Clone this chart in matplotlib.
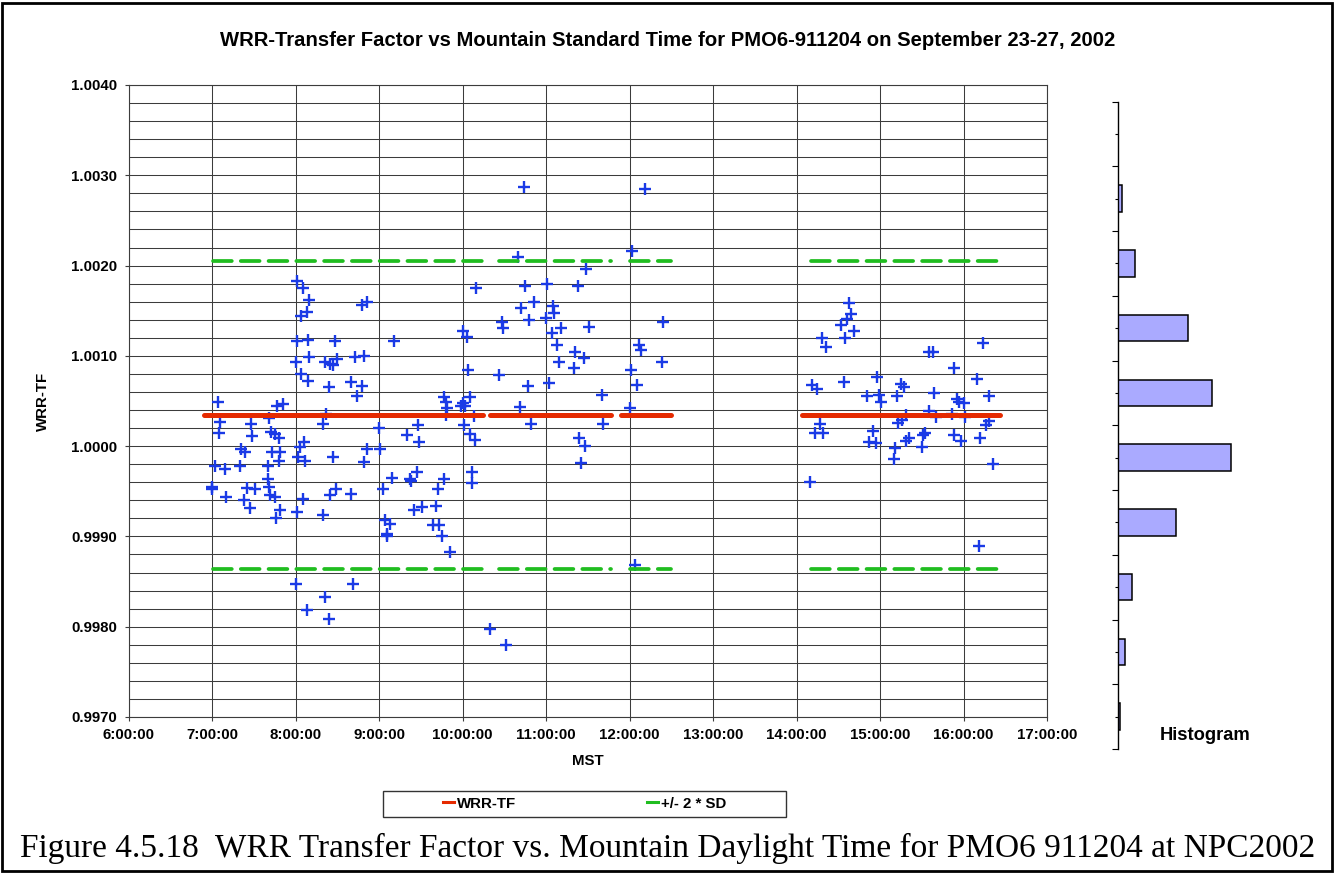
import matplotlib
matplotlib.use('Agg')
import matplotlib.pyplot as plt
from matplotlib.lines import Line2D
from matplotlib.patches import Rectangle
from matplotlib.ticker import MultipleLocator, FormatStrFormatter, FixedLocator
import numpy as np

plt.rcParams['font.family'] = ['Liberation Sans', 'DejaVu Sans']
plt.rcParams['lines.scale_dashes'] = False

# WRR-TF readings, morning session (MST)
tf_am_times = [
    "8:01", "8:05:30", "8:10", "8:08", "8:04", "8:48", "8:51", "8:01", "8:09", "8:28",
    "9:11", "8:10", "8:00", "8:21", "8:25", "8:27", "8:30", "8:43", "8:49", "8:04",
    "8:09", "8:24", "8:40", "8:48", "8:44", "7:04", "7:47", "7:51", "8:22", "7:41",
    "7:06", "7:28", "8:20", "7:05", "7:29", "7:42", "7:45", "7:48", "9:00", "9:20",
    "9:28", "9:29", "8:06", "8:03", "7:21", "7:24", "7:43", "7:49", "7:48", "8:02",
    "8:07", "8:27", "8:51", "9:01", "8:49", "7:02", "7:09", "7:20", "7:40", "7:40",
    "7:00", "7:00", "7:10", "7:25", "7:31", "7:23", "7:27", "7:41", "7:41:30", "7:45",
    "7:46", "7:49", "8:05", "8:01", "8:20", "8:25", "8:29", "8:40", "9:09", "9:03",
    "9:22", "9:23", "9:27", "9:25", "9:31", "9:41", "9:42", "9:04", "9:08", "9:06",
    "9:06", "9:39", "9:43", "9:45", "8:00", "8:41", "8:21", "8:08", "8:24",
    "10:44", "12:11", "12:02", "10:40", "11:29", "10:10", "10:45", "11:01", "11:23", "10:51",
    "10:42", "11:05", "11:06", "10:48", "11:00", "10:28", "10:29", "10:00", "10:03", "11:04",
    "11:11", "11:31", "12:24", "11:08", "11:21", "11:27", "12:06:30", "12:08", "11:09", "11:20",
    "12:23", "10:04", "10:26", "10:47", "11:02", "12:01", "12:05", "11:40", "9:47", "9:48",
    "9:49", "10:05", "10:00", "10:02", "9:59", "10:41", "12:00", "10:08", "9:48", "10:01",
    "10:49", "11:41", "10:05", "10:09", "11:24", "11:28", "11:25",
    "10:06:30", "10:06:30", "9:47", "9:51", "12:04", "10:20", "10:31",
]
tf_am_values = [
    1.00183, 1.00175, 1.00162, 1.00149, 1.00144, 1.00156, 1.00160, 1.00117, 1.00118, 1.00117,
    1.00116, 1.00099, 1.00093, 1.00093, 1.00091, 1.00090, 1.00096, 1.00099, 1.00100, 1.00080,
    1.00072, 1.00065, 1.00071, 1.00067, 1.00056, 1.00049, 1.00044, 1.00047, 1.00036, 1.00031,
    1.00027, 1.00024, 1.00024, 1.00015, 1.00011, 1.00016, 1.00013, 1.00009, 1.00020, 1.00012,
    1.00023, 1.00005, 1.00005, 0.99999, 0.99997, 0.99993, 0.99994, 0.99993, 0.99984, 0.99988,
    0.99983, 0.99988, 0.99997, 0.99997, 0.99982, 0.99978, 0.99975, 0.99978, 0.99978, 0.99964,
    0.99955, 0.99953, 0.99944, 0.99954, 0.99953, 0.99940, 0.99931, 0.99955, 0.99946, 0.99944,
    0.99920, 0.99929, 0.99942, 0.99927, 0.99924, 0.99946, 0.99953, 0.99947, 0.99965, 0.99952,
    0.99964, 0.99961, 0.99971, 0.99929, 0.99933, 0.99934, 0.99952, 0.99918, 0.99914, 0.99901,
    0.99903, 0.99913, 0.99913, 0.99901, 0.99847, 0.99847, 0.99833, 0.99818, 0.99808,
    1.00287, 1.00285, 1.00216, 1.00209, 1.00196, 1.00175, 1.00177, 1.00180, 1.00177, 1.00160,
    1.00153, 1.00155, 1.00147, 1.00140, 1.00142, 1.00138, 1.00131, 1.00128, 1.00121, 1.00125,
    1.00131, 1.00132, 1.00138, 1.00112, 1.00104, 1.00098, 1.00112, 1.00106, 1.00093, 1.00086,
    1.00093, 1.00084, 1.00079, 1.00067, 1.00070, 1.00084, 1.00068, 1.00057, 1.00054, 1.00049,
    1.00042, 1.00054, 1.00048, 1.00045, 1.00045, 1.00043, 1.00042, 1.00033, 1.00034, 1.00023,
    1.00025, 1.00024, 1.00014, 1.00007, 1.00009, 1.00000, 0.99981,
    0.99971, 0.99959, 0.99964, 0.99883, 0.99868, 0.99797, 0.99780,
]

# WRR-TF readings, afternoon session (MST)
tf_pm_times = [
    "14:38", "14:39", "14:36", "14:32", "14:41", "14:35", "14:18", "14:21", "16:14", "15:35",
    "15:38", "15:53", "14:58", "16:10", "14:11", "14:15", "14:34", "15:15", "15:17", "14:51",
    "14:59", "15:01", "15:12", "15:39", "15:55", "15:57", "16:00", "16:18", "15:35", "15:52",
    "15:40", "16:01", "15:19", "15:16", "15:13", "16:18", "16:16", "14:17", "14:13", "14:19",
    "14:55", "14:52", "14:57", "15:21", "15:19", "15:32", "15:31", "15:11", "15:10", "15:30",
    "15:53", "15:58", "16:12", "16:21", "14:10", "16:11",
]
tf_pm_values = [
    1.00159, 1.00146, 1.00141, 1.00134, 1.00128, 1.00120, 1.00120, 1.00110, 1.00114, 1.00104,
    1.00104, 1.00086, 1.00077, 1.00074, 1.00068, 1.00063, 1.00071, 1.00069, 1.00065, 1.00056,
    1.00057, 1.00049, 1.00056, 1.00059, 1.00052, 1.00049, 1.00048, 1.00055, 1.00039, 1.00036,
    1.00032, 1.00032, 1.00034, 1.00029, 1.00026, 1.00028, 1.00023, 1.00025, 1.00015, 1.00015,
    1.00017, 1.00005, 1.00004, 1.00009, 1.00006, 1.00015, 1.00012, 0.99998, 0.99986, 0.99999,
    1.00012, 1.00006, 1.00009, 0.99980, 0.99960, 0.99889,
]

# mean and +/- 2 SD, drawn over the continuous runs of data
wrr_mean = 1.00035
sd2_upper = 1.00205
sd2_lower = 0.99864
run_starts = ["6:54", "10:20", "11:54", "14:04"]
run_ends = ["10:15", "11:47", "12:30", "16:26"]

hour_ticks = list(range(6, 18))
hour_labels = [f"{h}:00:00" for h in hour_ticks]

# histogram of the readings, top bin first
hist_bins = [1.00347, 1.00275, 1.00203, 1.00131, 1.00059, 0.99987, 0.99915, 0.99844, 0.99772, 0.99700]
hist_counts = [0, 2, 10, 41, 55, 66, 34, 8, 4, 1]

title = "WRR-Transfer Factor vs Mountain Standard Time for PMO6-911204 on September 23-27, 2002"
caption = "Figure 4.5.18  WRR Transfer Factor vs. Mountain Daylight Time for PMO6 911204 at NPC2002"


def to_hours(s):
    parts = [int(p) for p in s.split(':')]
    h = parts[0] + parts[1] / 60.0
    if len(parts) > 2:
        h += parts[2] / 3600.0
    return h


W, H = 1335, 873
fig = plt.figure(figsize=(W / 100, H / 100), dpi=100)

BLUE = '#1a3ae6'
RED = '#e52a00'
GREEN = '#20bd20'
GRID = '#3c3c3c'

# main scatter
ax = fig.add_axes([128.6 / W, 1 - 717 / H, 918.4 / W, 632 / H])
times = [to_hours(t) for t in tf_am_times + tf_pm_times]
values = tf_am_values + tf_pm_values
ax.plot(times, values, linestyle='none', marker='+', ms=8, mew=1.7,
        color=BLUE, zorder=3)

for s, e in zip(run_starts, run_ends):
    xs = [to_hours(s), to_hours(e)]
    ax.plot(xs, [wrr_mean] * 2, color=RED, lw=3.6, solid_capstyle='round', zorder=5)
    for lvl in (sd2_upper, sd2_lower):
        ax.plot(xs, [lvl] * 2, color=GREEN, lw=2.7, linestyle=(13.5, (13.5, 6.5)),
                dash_capstyle='round', zorder=4)

ax.set_xlim(6, 17)
ax.set_ylim(0.997, 1.004)
ax.set_xticks(hour_ticks)
ax.set_xticklabels(hour_labels)
ax.yaxis.set_major_locator(MultipleLocator(0.001))
ax.yaxis.set_minor_locator(MultipleLocator(0.0002))
ax.yaxis.set_major_formatter(FormatStrFormatter('%.4f'))
ax.set_axisbelow(True)
ax.grid(True, axis='y', which='both', color=GRID, lw=0.75)
ax.grid(True, axis='x', which='major', color=GRID, lw=0.75)
ax.tick_params(axis='y', which='minor', length=0)
ax.tick_params(axis='both', which='major', direction='out', length=3, width=0.8,
               color=GRID, labelsize=10.8)
ax.tick_params(axis='x', pad=4.7)
ax.tick_params(axis='y', pad=5)
for lab in ax.get_xticklabels() + ax.get_yticklabels():
    lab.set_fontweight('bold')
for sp in ax.spines.values():
    sp.set_color(GRID)
    sp.set_linewidth(0.8)

ax.set_xlabel('MST', fontsize=10.8, fontweight='bold')
ax.xaxis.set_label_coords(0.5, -(754 - 717) / 632)
ax.set_ylabel('WRR-TF', fontsize=10.8, fontweight='bold')
ax.yaxis.set_label_coords((50 - 128.6) / 918.4, 0.5)

fig.text(0.5, 1 - 46 / H, title, ha='center', va='baseline',
         fontsize=14.6, fontweight='bold')

# histogram panel
hx = fig.add_axes([1118.3 / W, 1 - 749 / H, (W - 1118.3) / W, 647.4 / H])
ypos = np.arange(len(hist_bins))
hx.barh(ypos, hist_counts, height=0.41, color='#aaaaff', edgecolor='black', lw=1.1)
hx.set_ylim(len(hist_bins) - 0.5, -0.5)
hx.set_xlim(0, (W - 1118.3) / 1.70)
for k in ('top', 'right', 'bottom'):
    hx.spines[k].set_visible(False)
hx.spines['left'].set_linewidth(1.0)
hx.set_xticks([])
hx.yaxis.set_major_locator(FixedLocator(np.arange(-0.5, len(hist_bins), 1.0)))
hx.yaxis.set_minor_locator(FixedLocator(ypos))
hx.tick_params(axis='y', which='major', direction='out', length=4.3, width=0.8, labelleft=False)
hx.tick_params(axis='y', which='minor', direction='out', length=2, width=0.8, labelleft=False)
hx.patch.set_alpha(0)
fig.text(1205 / W, 1 - 739.7 / H, 'Histogram', ha='center', va='baseline',
         fontsize=13.2, fontweight='bold')

# legend
handles = [Line2D([], [], color=RED, lw=2.2), Line2D([], [], color=GREEN, lw=2.2)]
fig.legend(handles, ['WRR-TF', '+/- 2 * SD'], loc='center',
           bbox_to_anchor=(584.7 / W, 1 - 803.7 / H), ncol=2, frameon=False,
           handlelength=0.75, handletextpad=0.2, columnspacing=8.7,
           borderpad=0, borderaxespad=0, prop={'weight': 'bold', 'size': 10.8})
fig.add_artist(Rectangle((382.7 / W, 1 - 816.7 / H), 403 / W, 26 / H,
                         transform=fig.transFigure, fill=False, ec='#333333', lw=1))

fig.text(0.5, 1 - 857.3 / H, caption, ha='center', va='baseline',
         fontsize=24.0, family=['Liberation Serif', 'DejaVu Serif'])

# outer frame
fig.add_artist(Rectangle((0.0015, 0.0023), 0.9966, 0.9943, transform=fig.transFigure,
                         fill=False, ec='black', lw=2))

fig.savefig('out.png', dpi=100)
plt.close(fig)
